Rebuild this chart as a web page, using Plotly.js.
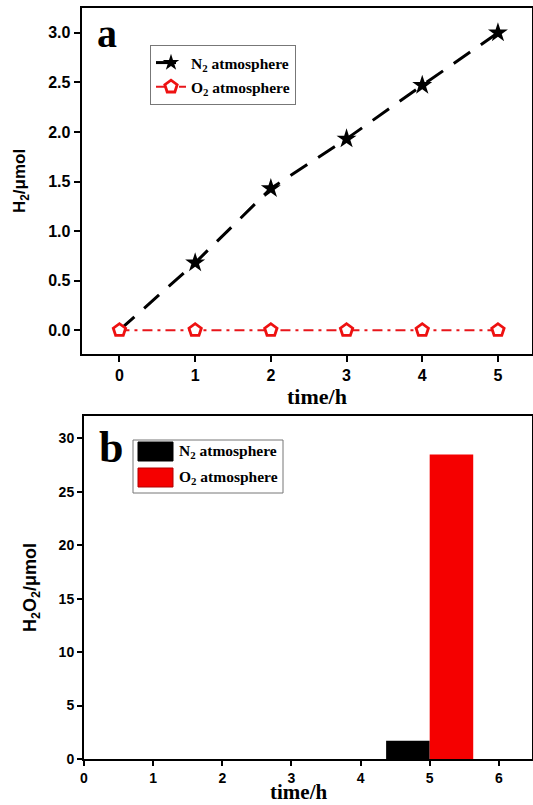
<!DOCTYPE html>
<html><head><meta charset="utf-8">
<script src="https://cdn.plot.ly/plotly-3.0.1.min.js"></script>
<style>body{margin:0;background:#fff}</style>
</head><body>
<div id="chart" style="width:533px;height:805px"></div>
<script>
// Panel a: H2 evolution
const timeA = [0, 1, 2, 3, 4, 5];
const h2N2 = [0, 0.68, 1.43, 1.93, 2.47, 3.0];
const h2O2 = [0, 0, 0, 0, 0, 0];
// Panel b: H2O2 production
const timeB = [5];
const h2o2N2 = [1.7];
const h2o2O2 = [28.5];
const seriesNames = ["N<sub>2</sub> atmosphere", "O<sub>2</sub> atmosphere"];
const barColors = ['black', '#f50000'];
const xTitle = 'time/h';

const sans = "Liberation Sans, Arial, sans-serif";
const serif = "Liberation Serif, Times New Roman, serif";

const traces = [
  {x: timeA, y: h2N2, name: seriesNames[0], type: 'scatter', mode: 'lines+markers', legendgroup: 'n2',
   line: {color: 'black', width: 3, dash: '20px,13px'},
   marker: {symbol: 'star', size: [0, 15, 15, 15, 15, 15], color: 'black', opacity: 1, line: {width: 0}},
   xaxis: 'x', yaxis: 'y', legend: 'legend'},
  {x: timeA, y: h2O2, name: seriesNames[1], type: 'scatter', mode: 'lines+markers', legendgroup: 'o2',
   line: {color: '#e8161b', width: 2, dash: '10px,5px,3px,5px'},
   marker: {symbol: 'pentagon', size: 13, color: 'white', line: {width: 2.8, color: '#ee1111'}},
   xaxis: 'x', yaxis: 'y', legend: 'legend'},
  {x: timeB, y: h2o2N2, name: seriesNames[0], type: 'bar', width: 0.63, offset: -0.63, showlegend: false,
   marker: {color: barColors[0]}, xaxis: 'x2', yaxis: 'y2'},
  {x: timeB, y: h2o2O2, name: seriesNames[1], type: 'bar', width: 0.63, offset: 0, showlegend: false,
   marker: {color: barColors[1]}, xaxis: 'x2', yaxis: 'y2'}
];

const axBase = {showline: true, mirror: true, linecolor: 'black', linewidth: 2,
  ticks: 'outside', ticklen: 6, tickwidth: 2, tickcolor: 'black', showgrid: false, zeroline: false};

// plot area in pixels
const W = 533, H = 805;
const M = {l: 81, r: 1, t: 8, b: 46};
const PW = W - M.l - M.r, PH = H - M.t - M.b;
const px = v => (v - M.l) / PW, py = v => (H - M.b - v) / PH;

// custom legend for panel b (large swatches)
const legB = {x0: 133, x1: 283, y0: 440, y1: 493};
const swatchRows = [{y0: 442, y1: 461}, {y0: 468, y1: 487}];
const shapes = [
  {type: 'rect', xref: 'paper', yref: 'paper', x0: px(legB.x0), x1: px(legB.x1), y0: py(legB.y1), y1: py(legB.y0),
   line: {color: '#777', width: 1}, fillcolor: 'white', layer: 'above'}
];
const annotations = [
  {text: 'a', xref: 'paper', yref: 'paper', x: px(95), y: py(34), xanchor: 'left', yanchor: 'middle',
   showarrow: false, font: {family: serif, size: 40, color: 'black', weight: 'bold'}},
  {text: 'b', xref: 'paper', yref: 'paper', x: px(96.5), y: py(447), xanchor: 'left', yanchor: 'middle',
   showarrow: false, font: {family: serif, size: 44, color: 'black', weight: 'bold'}},
  // x-axis titles
  {text: xTitle, xref: 'paper', yref: 'paper', x: px(317), y: py(396), xanchor: 'center', yanchor: 'middle',
   showarrow: false, font: {family: serif, size: 22, color: 'black', weight: 'bold'}},
  {text: xTitle, xref: 'paper', yref: 'paper', x: px(298), y: py(805), xanchor: 'center', yanchor: 'bottom',
   borderpad: 0, showarrow: false, font: {family: serif, size: 21, color: 'black', weight: 'bold'}}
];
swatchRows.forEach((r, i) => {
  shapes.push({type: 'rect', xref: 'paper', yref: 'paper', x0: px(138), x1: px(173), y0: py(r.y1), y1: py(r.y0),
    line: {color: i ? '#b00000' : 'black', width: 1}, fillcolor: barColors[i], layer: 'above'});
  annotations.push({text: seriesNames[i], xref: 'paper', yref: 'paper', x: px(177), y: py((r.y0 + r.y1) / 2),
    xanchor: 'left', yanchor: 'middle', showarrow: false,
    font: {family: serif, size: 15.5, color: 'black', weight: 'bold'}});
});

const layout = {
  width: W, height: H, margin: {l: M.l, r: M.r, t: M.t, b: M.b, pad: 0},
  paper_bgcolor: 'white', plot_bgcolor: 'white', barmode: 'overlay',
  xaxis: Object.assign({}, axBase, {domain: [px(81.6), 1], range: [-0.5, 5.45], dtick: 1,
    tickfont: {family: sans, size: 16, color: 'black', weight: 'bold'}, anchor: 'y'}),
  yaxis: Object.assign({}, axBase, {domain: [py(354), 1], range: [-0.24, 3.25], dtick: 0.5,
    tickformat: '.1f', tickfont: {family: sans, size: 16, color: 'black', weight: 'bold'}, anchor: 'x',
    title: {text: 'H<sub>2</sub>/μmol', font: {family: sans, size: 17, color: 'black', weight: 'bold'}, standoff: 18}}),
  xaxis2: Object.assign({}, axBase, {domain: [px(84), 1], range: [0, 6.48], dtick: 1,
    tickfont: {family: sans, size: 14, color: 'black', weight: 'bold'}, anchor: 'y2', ticklen: 5}),
  yaxis2: Object.assign({}, axBase, {domain: [0, py(416)], range: [0, 32.1], dtick: 5,
    tickfont: {family: sans, size: 14, color: 'black', weight: 'bold'}, anchor: 'x2', ticklen: 5,
    title: {text: 'H<sub>2</sub>O<sub>2</sub>/μmol', font: {family: sans, size: 18, color: 'black', weight: 'bold'}, standoff: 17}}),
  legend: {x: px(150), y: py(45), xanchor: 'left', yanchor: 'top', bordercolor: '#777', borderwidth: 1,
    bgcolor: 'white', font: {family: serif, size: 15.5, color: 'black', weight: 'bold'}, tracegroupgap: 1},
  showlegend: true,
  shapes: shapes,
  annotations: annotations
};

Plotly.newPlot('chart', traces, layout, {displayModeBar: false, staticPlot: true});
</script>
</body></html>
